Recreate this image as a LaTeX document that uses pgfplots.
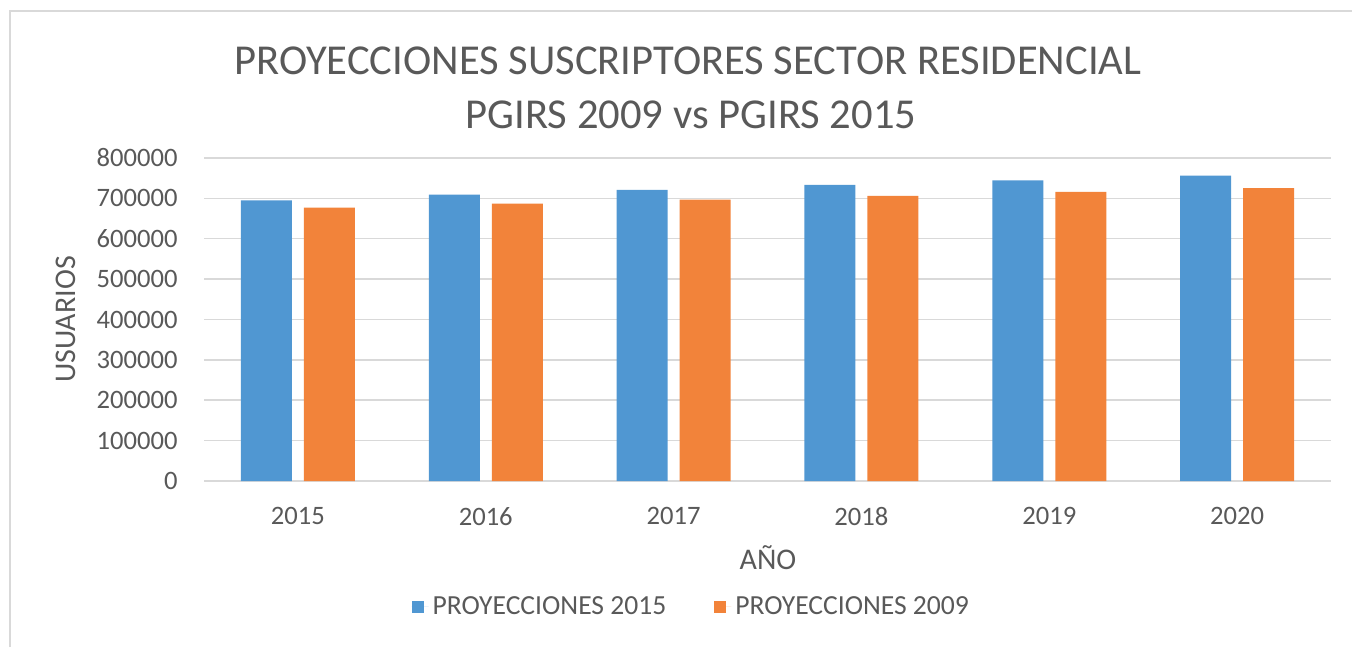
\documentclass[border=0pt]{standalone}
\usepackage{fontspec}
\setmainfont{Carlito}
\usepackage{pgfplots}
\pgfplotsset{compat=1.18}
\definecolor{txt}{HTML}{595959}
\definecolor{gridc}{HTML}{D9D9D9}
\definecolor{cblue}{RGB}{80,151,210}
\definecolor{corange}{RGB}{242,131,58}
\begin{document}
\begin{tikzpicture}
\path[use as bounding box] (0,0) rectangle (676pt,323.5pt);
\draw[gridc, line width=0.75pt] (5pt,0) -- (5pt,318pt) -- (676pt,318pt);
\begin{axis}[
  at={(102pt,83pt)}, anchor=south west,
  scale only axis, width=563.5pt, height=161.5pt,
  ybar=6pt, bar width=25.5pt,
  xmin=-0.5, xmax=5.5, ymin=0, ymax=800000,
  scaled y ticks=false,
  xtick={0,1,2,3,4,5}, xticklabels={2015,2016,2017,2018,2019,2020},
  ytick={0,100000,200000,300000,400000,500000,600000,700000,800000},
  yticklabels={0,100000,200000,300000,400000,500000,600000,700000,800000},
  axis x line*=bottom, axis y line*=left,
  x axis line style={-, draw=gridc, line width=0.75pt},
  y axis line style={draw=none},
  major tick length=0pt, tick style={draw=none},
  ymajorgrids, grid style={gridc, line width=0.75pt},
  yticklabel style={font=\fontsize{13.3}{16}\selectfont, text=txt, anchor=east, inner sep=0pt, xshift=-13pt},
  xticklabel style={font=\fontsize{13.3}{16}\selectfont, text=txt, anchor=north, inner sep=0pt, yshift=-13pt},
  legend style={at={(0.4333,-0.39)}, anchor=center, draw=none, legend columns=2,
    font=\fontsize{13.8}{16}\selectfont, text=txt, fill=none,
    /tikz/every even column/.append style={column sep=22pt}},
  clip=false,
]
\addplot[fill=cblue, draw=none, legend image code/.code={\fill[cblue] (0pt,-3pt) rectangle (6pt,3pt);\path (0pt,0pt) -- (8.5pt,0pt);}]
  coordinates {(0,695000) (1,709200) (2,720900) (3,733200) (4,744800) (5,756500)};
\addlegendentry{PROYECCIONES 2015}
\addplot[fill=corange, draw=none, legend image code/.code={\fill[corange] (0pt,-3pt) rectangle (6pt,3pt);\path (0pt,0pt) -- (8.5pt,0pt);}]
  coordinates {(0,676900) (1,686800) (2,696800) (3,706000) (4,715900) (5,725600)};
\addlegendentry{PROYECCIONES 2009}
\end{axis}
\node[anchor=base, text=txt, font=\fontsize{21.3}{25}\selectfont, inner sep=0pt] at (344pt,286pt) {PROYECCIONES SUSCRIPTORES SECTOR RESIDENCIAL};
\node[anchor=base, text=txt, font=\fontsize{21.3}{25}\selectfont, inner sep=0pt] at (345.5pt,259pt) {PGIRS 2009 vs PGIRS 2015};
\node[anchor=base, text=txt, font=\fontsize{15}{18}\selectfont, inner sep=0pt] at (384pt,38.75pt) {AÑO};
\node[anchor=base, rotate=90, text=txt, font=\fontsize{15}{18}\selectfont, inner sep=0pt] at (37.75pt,163.75pt) {USUARIOS};
\end{tikzpicture}
\end{document}
